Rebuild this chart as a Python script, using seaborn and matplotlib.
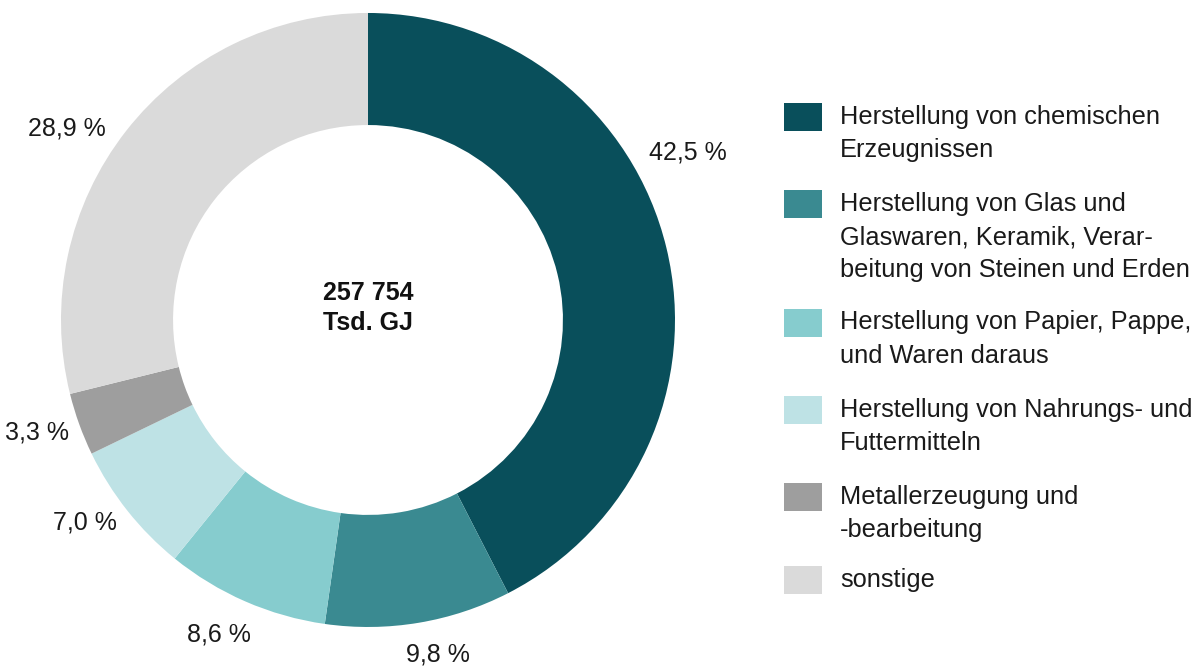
import matplotlib
matplotlib.use("Agg")
import matplotlib.pyplot as plt
import seaborn as sns
from matplotlib.patches import Rectangle

categories = [
    "Herstellung von chemischen\nErzeugnissen",
    "Herstellung von Glas und\nGlaswaren, Keramik, Verar-\nbeitung von Steinen und Erden",
    "Herstellung von Papier, Pappe,\nund Waren daraus",
    "Herstellung von Nahrungs- und\nFuttermitteln",
    "Metallerzeugung und\n-bearbeitung",
    "sonstige",
]
shares = [42.5, 9.8, 8.6, 7.0, 3.3, 28.9]
pct_labels = ["42,5 %", "9,8 %", "8,6 %", "7,0 %", "3,3 %", "28,9 %"]
center_label = "257 754\nTsd. GJ"
colors = ["#094F5B", "#3A8A91", "#86CCCE", "#BEE2E5", "#9E9E9E", "#DADADA"]

# layout only: label anchor positions (axes data units, radius = 1)
label_pos = [(1.042, 0.547), (0.228, -1.088), (-0.485, -1.026),
             (-0.922, -0.661), (-1.078, -0.365), (-0.980, 0.625)]
# layout only: legend row centres in pixels from the top
legend_rows_px = [117, 204, 322.5, 409.5, 497, 579.5]

sns.set_theme(style="white")
plt.rcParams["font.family"] = ["Liberation Sans", "DejaVu Sans"]

W, H = 1203, 669
fig = plt.figure(figsize=(W / 100, H / 100), dpi=100)
ax = fig.add_axes([0.0507, 0.0628, 0.5104, 0.9178])

wedges, texts = ax.pie(
    shares,
    colors=colors,
    startangle=90,
    counterclock=False,
    labels=pct_labels,
    labeldistance=1.14,
    radius=1.0,
    wedgeprops=dict(width=0.365, linewidth=0),
    textprops=dict(fontsize=18, color="#1a1a1a"),
)
for t, pos in zip(texts, label_pos):
    t.set_ha("center")
    t.set_va("center")
    t.set_position(pos)

ax.text(0, 0.04, center_label, ha="center", va="center", fontsize=18,
        fontweight="bold", color="#111111", linespacing=1.3)
ax.set_xlim(-1, 1)
ax.set_ylim(-1, 1)
ax.set_aspect("equal")
ax.axis("off")

# legend
for lab, col, yc in zip(categories, colors, legend_rows_px):
    fig.add_artist(Rectangle((784 / W, 1 - (yc + 14) / H), 38 / W, 28 / H,
                             transform=fig.transFigure, facecolor=col,
                             edgecolor="none"))
    fig.text(840 / W, 1 - (yc - 12) / H, lab, ha="left", va="top",
             fontsize=18.3, color="#1a1a1a", linespacing=1.48)

fig.savefig("out.png", dpi=100, facecolor="white")
